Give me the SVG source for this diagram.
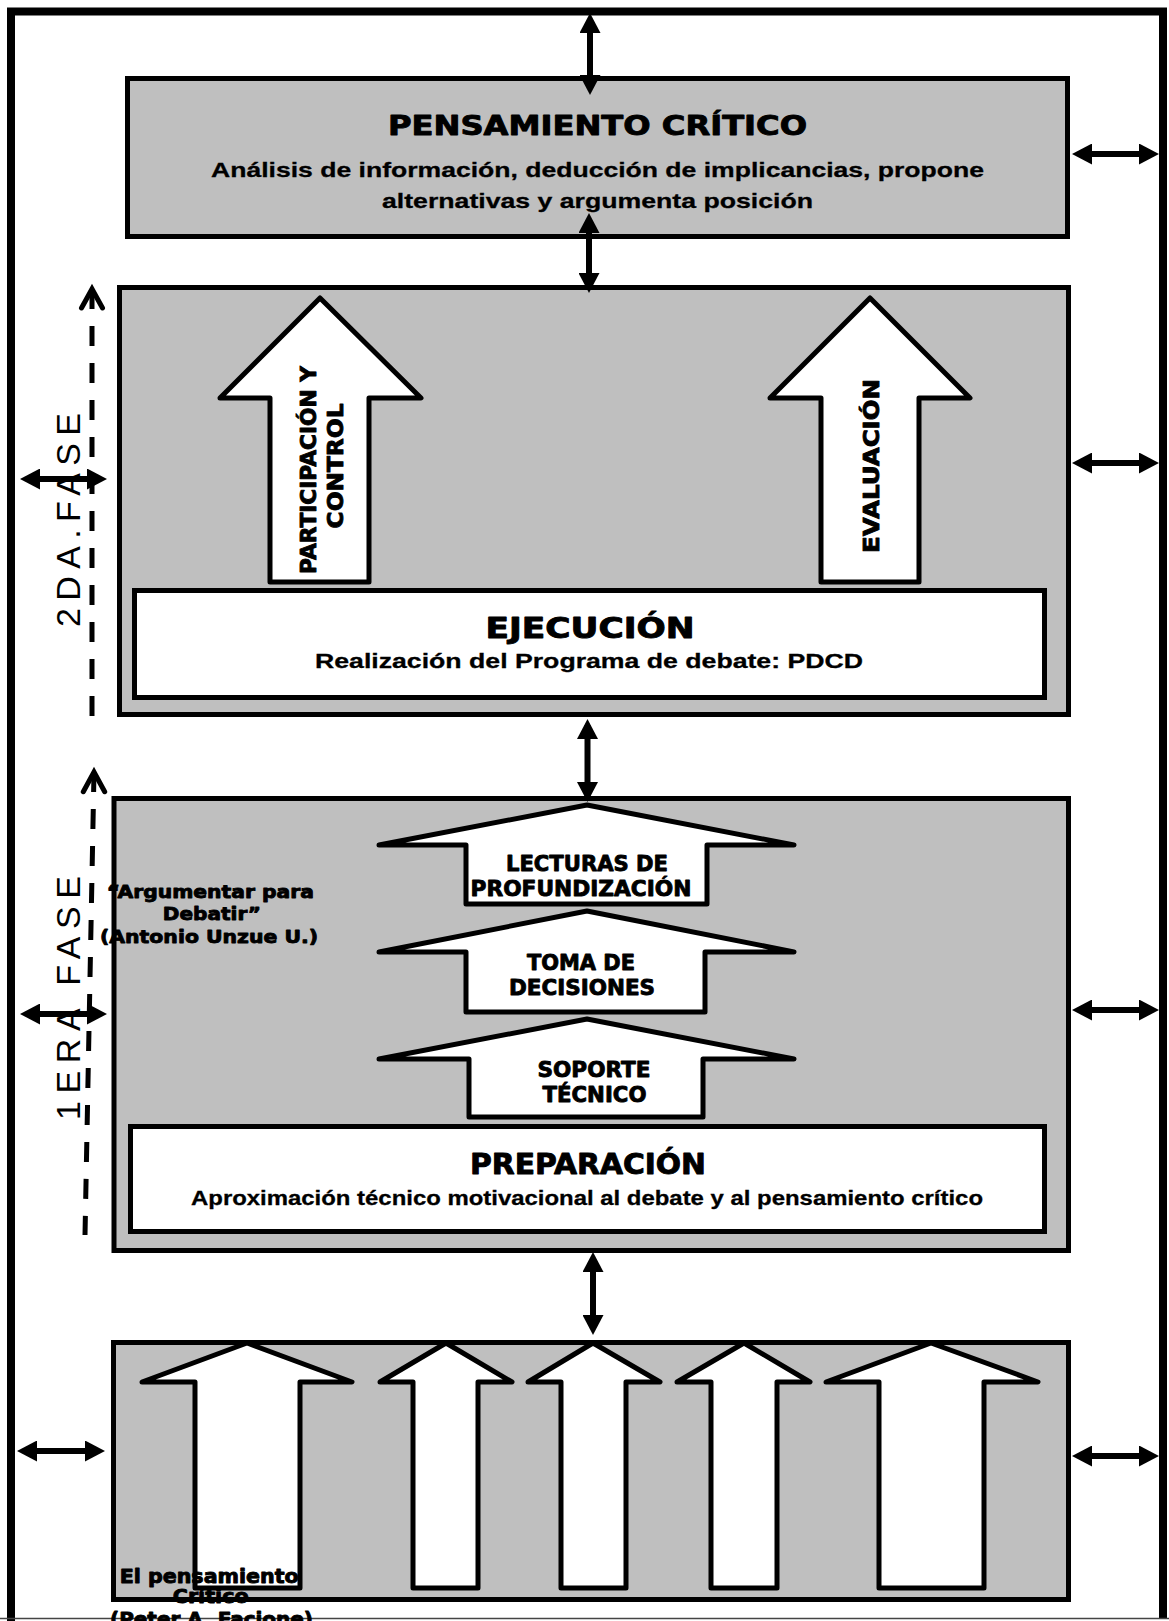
<svg xmlns="http://www.w3.org/2000/svg" width="1169" height="1621" viewBox="0 0 1169 1621">
  <style>
    .box { fill: #bfbfbf; stroke: #000; stroke-width: 5; }
    .inner { fill: #fff; stroke: #000; stroke-width: 5; }
    .bigarrow { fill: #fff; stroke: #000; stroke-width: 5; stroke-linejoin: round; }
    .link { fill: none; stroke: #000; stroke-width: 6; marker-start: url(#head); marker-end: url(#head); }
    .phase { fill: none; stroke: #000; stroke-width: 5; stroke-dasharray: 20 17; }
    .chev { fill: none; stroke: #000; stroke-width: 5; stroke-linecap: round; stroke-linejoin: miter; }
    .heavy { font-family: "DejaVu Sans", "Liberation Sans", sans-serif; font-weight: bold; fill: #000; stroke: #000; stroke-width: 0.9; stroke-linejoin: round; }
    .sub { font-family: "Liberation Sans", Arial, sans-serif; font-weight: bold; fill: #000; stroke: #000; stroke-width: 0.3; }
    .phase-label { font-family: "Liberation Sans", Arial, sans-serif; font-weight: normal; font-size: 34px; fill: #000; }
  </style>
  <defs>
    <marker id="head" viewBox="0 0 20 21" refX="14" refY="10.5" markerWidth="20" markerHeight="21" markerUnits="userSpaceOnUse" orient="auto-start-reverse">
      <path d="M0,0 L20,10.5 L0,21 Z" fill="#000"/>
    </marker>
  </defs>

  <rect width="1169" height="1621" fill="#fff"/>

  <!-- page frame -->
  <g id="frame">
    <path d="M11,1621 V11.5 H1163 V1619" fill="none" stroke="#000" stroke-width="8" stroke-linejoin="miter"/>
    <line x1="0" y1="1618.5" x2="1169" y2="1618.5" stroke="#444" stroke-width="1.5"/>
  </g>

  <!-- top: critical thinking -->
  <g id="node-pensamiento">
    <rect class="box" x="127.5" y="78.5" width="940" height="158"/>
    <text class="heavy" x="597.5" y="135" font-size="27" text-anchor="middle" textLength="419" lengthAdjust="spacingAndGlyphs">PENSAMIENTO CRÍTICO</text>
    <text class="sub" x="597.5" y="177" font-size="21" text-anchor="middle" textLength="773" lengthAdjust="spacingAndGlyphs">Análisis de información, deducción de implicancias, propone</text>
    <text class="sub" x="597.5" y="208" font-size="21" text-anchor="middle" textLength="431" lengthAdjust="spacingAndGlyphs">alternativas y argumenta posición</text>
  </g>

  <!-- second phase -->
  <g id="node-fase2">
    <rect class="box" x="119.5" y="287.5" width="949" height="427"/>
    <polygon class="bigarrow" points="320,298 421,398 369,398 369,582 270,582 270,398 220,398"/>
    <polygon class="bigarrow" points="870,298 970,398 919,398 919,582 821,582 821,398 770,398"/>
    <text class="heavy" font-size="21" text-anchor="middle" transform="translate(316,470) rotate(-90)" textLength="208" lengthAdjust="spacingAndGlyphs">PARTICIPACIÓN Y</text>
    <text class="heavy" font-size="21" text-anchor="middle" transform="translate(343,466) rotate(-90)" textLength="125" lengthAdjust="spacingAndGlyphs">CONTROL</text>
    <text class="heavy" font-size="21" text-anchor="middle" transform="translate(879,466) rotate(-90)" textLength="174" lengthAdjust="spacingAndGlyphs">EVALUACIÓN</text>
  </g>

  <g id="node-ejecucion">
    <rect class="inner" x="134.5" y="590.5" width="910" height="107"/>
    <text class="heavy" x="590" y="638" font-size="28" text-anchor="middle" textLength="209" lengthAdjust="spacingAndGlyphs">EJECUCIÓN</text>
    <text class="sub" x="589" y="668" font-size="21" text-anchor="middle" textLength="548" lengthAdjust="spacingAndGlyphs">Realización del Programa de debate: PDCD</text>
  </g>

  <!-- first phase -->
  <g id="node-fase1">
    <rect class="box" x="114" y="798.5" width="954.5" height="452"/>
    <polygon class="bigarrow" points="587,805 794,845 707,845 707,904 466,904 466,845 379,845"/>
    <polygon class="bigarrow" points="587,911 794,952 705,952 705,1012 466,1012 466,952 379,952"/>
    <polygon class="bigarrow" points="587,1019 794,1059 703,1059 703,1117 469,1117 469,1059 379,1059"/>
    <text class="heavy" x="587" y="871" font-size="22" text-anchor="middle" textLength="162" lengthAdjust="spacingAndGlyphs">LECTURAS DE</text>
    <text class="heavy" x="581" y="896" font-size="22" text-anchor="middle" textLength="221" lengthAdjust="spacingAndGlyphs">PROFUNDIZACIÓN</text>
    <text class="heavy" x="581" y="970" font-size="22" text-anchor="middle" textLength="108" lengthAdjust="spacingAndGlyphs">TOMA DE</text>
    <text class="heavy" x="582" y="995" font-size="22" text-anchor="middle" textLength="146" lengthAdjust="spacingAndGlyphs">DECISIONES</text>
    <text class="heavy" x="594" y="1077" font-size="22" text-anchor="middle" textLength="113" lengthAdjust="spacingAndGlyphs">SOPORTE</text>
    <text class="heavy" x="594.5" y="1102" font-size="22" text-anchor="middle" textLength="104" lengthAdjust="spacingAndGlyphs">TÉCNICO</text>
    <text class="heavy" font-size="18" text-anchor="middle">
      <tspan x="213.5" y="898" textLength="207" lengthAdjust="spacingAndGlyphs">“Argumentar para</tspan>
      <tspan x="215" y="920" textLength="98" lengthAdjust="spacingAndGlyphs">Debatir”</tspan>
      <tspan x="209" y="943" textLength="218" lengthAdjust="spacingAndGlyphs">(Antonio Unzue U.)</tspan>
    </text>
  </g>

  <g id="node-preparacion">
    <rect class="inner" x="130.5" y="1126.5" width="914" height="105"/>
    <text class="heavy" x="588" y="1174" font-size="28" text-anchor="middle" textLength="236" lengthAdjust="spacingAndGlyphs">PREPARACIÓN</text>
    <text class="sub" x="587" y="1205" font-size="21" text-anchor="middle" textLength="792" lengthAdjust="spacingAndGlyphs">Aproximación técnico motivacional al debate y al pensamiento crítico</text>
  </g>

  <!-- base: elements of critical thinking -->
  <g id="node-base">
    <rect class="box" x="113.5" y="1342.5" width="955" height="257"/>
    <polygon class="bigarrow" points="247,1343 352,1382 300,1382 300,1588 195,1588 195,1382 142,1382"/>
    <polygon class="bigarrow" points="446,1343 512,1382 478,1382 478,1588 413,1588 413,1382 380,1382"/>
    <polygon class="bigarrow" points="593,1343 660,1382 626,1382 626,1588 561,1588 561,1382 528,1382"/>
    <polygon class="bigarrow" points="744,1343 810,1382 777,1382 777,1588 711,1588 711,1382 677,1382"/>
    <polygon class="bigarrow" points="931,1343 1038,1382 984,1382 984,1588 879,1588 879,1382 826,1382"/>
    <text class="heavy" font-size="19" text-anchor="middle">
      <tspan x="212.5" y="1583" textLength="179" lengthAdjust="spacingAndGlyphs">El pensamiento</tspan>
      <tspan x="214" y="1603" textLength="76" lengthAdjust="spacingAndGlyphs">Crítico</tspan>
      <tspan x="211.5" y="1626" textLength="203" lengthAdjust="spacingAndGlyphs">(Peter A. Facione)</tspan>
    </text>
  </g>

  <!-- phase labels -->
  <g id="label-fase2">
    <text class="phase-label" transform="translate(80,627) rotate(-90)" textLength="214" lengthAdjust="spacing">2DA.FASE</text>
  </g>
  <g id="label-fase1">
    <text class="phase-label" transform="translate(79.5,1120) rotate(-90)" textLength="244" lengthAdjust="spacing">1ERA FASE</text>
  </g>

  <g id="connectors">
    <!-- phase progress arrows -->
    <path class="phase" d="M92,289 V718"/>
    <polyline class="chev" points="81.5,308 92,289 102.5,308"/>
    <path class="phase" d="M94,772 L85,1235"/>
    <polyline class="chev" points="83.3,791.7 94,772 104.7,791.7"/>

    <!-- vertical links between levels -->
    <line class="link" x1="590" y1="19" x2="590" y2="89"/>
    <line class="link" x1="589" y1="219" x2="589" y2="287"/>
    <line class="link" x1="587.5" y1="725" x2="587.5" y2="796"/>
    <line class="link" x1="593" y1="1258" x2="593" y2="1329"/>

    <!-- links to the right frame -->
    <line class="link" x1="1078" y1="154" x2="1153" y2="154"/>
    <line class="link" x1="1078" y1="463" x2="1153" y2="463"/>
    <line class="link" x1="1078" y1="1010" x2="1153" y2="1010"/>
    <line class="link" x1="1078" y1="1456" x2="1153" y2="1456"/>

    <!-- links to the left frame -->
    <line class="link" x1="26" y1="479" x2="101" y2="479"/>
    <line class="link" x1="26" y1="1014" x2="101" y2="1014"/>
    <line class="link" x1="23" y1="1451" x2="99" y2="1451"/>
  </g>
</svg>
